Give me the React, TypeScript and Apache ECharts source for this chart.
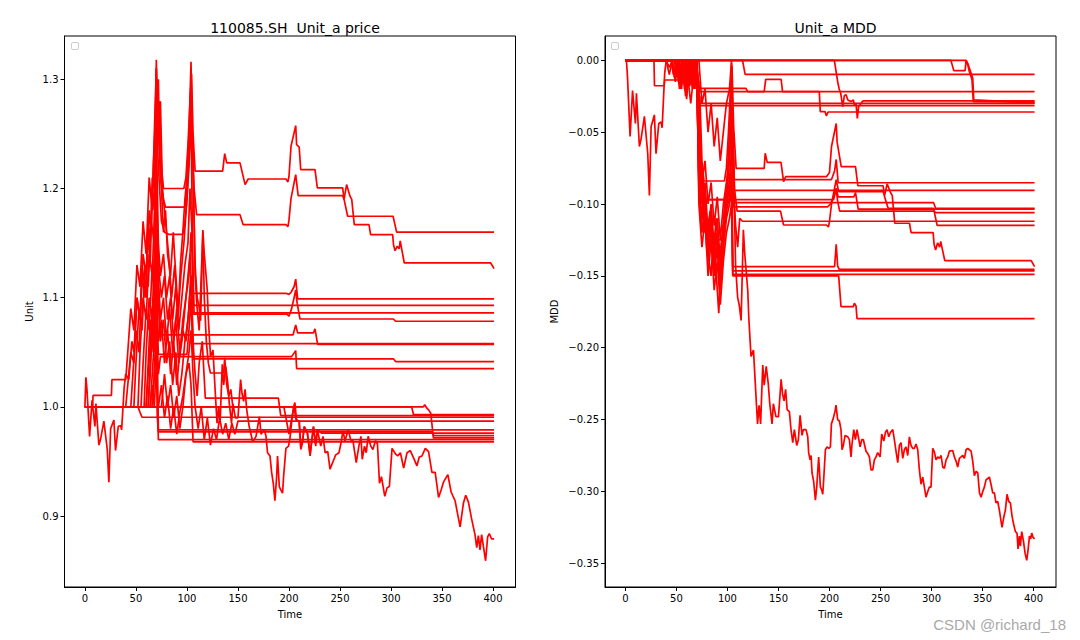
import React, { useEffect, useRef } from 'react';
import * as echarts from 'echarts';

const FONT = "'DejaVu Sans', sans-serif";
const RED = '#ff0000';

const xTicks = [0, 50, 100, 150, 200, 250, 300, 350, 400];
const priceTicks = [0.9, 1.0, 1.1, 1.2, 1.3];
const mddTicks = [0, -0.05, -0.1, -0.15, -0.2, -0.25, -0.3, -0.35];

// ---------- left chart: unit price ----------
const priceMain = [
  [0, 1.0], [1, 1.027], [2, 1.016], [4.6, 0.973], [7, 1.006], [9.8, 0.982], [10.8, 1.003], [13.7, 0.965], [15.3, 0.97], [18.6, 0.987],
  [21.9, 0.961], [23.5, 0.931], [25.2, 0.98], [28.4, 0.988], [30, 0.96], [32.7, 0.982], [35, 0.983], [36, 0.979], [38.5, 1.018], [40, 1.03],
  [43, 1.025], [46, 1.06], [48, 1.05], [51, 1.1], [54, 1.08], [56, 1.13], [58, 1.115], [60, 1.1], [62, 1.17], [64, 1.15], [66, 1.21],
  [68, 1.2], [70, 1.318], [71, 1.26], [72, 1.3], [73, 1.24], [75, 1.2], [77, 1.16], [79, 1.18], [81, 1.14], [83.9, 1.12], [86.6, 1.16],
  [88, 1.137], [91.5, 1.086], [93.7, 1.132], [96, 1.16], [98, 1.19], [100, 1.21], [102, 1.25], [104, 1.316], [105, 1.26], [106, 1.22],
  [108, 1.13], [110, 1.1], [111.7, 1.093], [113.4, 1.079], [115.6, 1.162], [117, 1.14], [119.9, 1.107], [121, 1.08], [123.1, 1.046],
  [125.5, 1.052], [128, 1.009], [129.5, 0.985], [131, 1.0], [132.5, 0.985], [134.6, 1.039], [136, 1.02], [138, 1.037], [140, 1.022],
  [141.5, 1.003], [143.7, 0.985], [145, 1.003], [147.5, 0.99], [150, 0.99], [152.6, 1.025], [154, 1.012], [155.5, 1.005], [157, 1.016],
  [158.5, 0.998], [161, 0.982], [164.5, 0.968], [167.7, 0.973], [171, 0.991], [172.6, 0.975], [175.8, 0.979], [177.5, 0.973], [179, 0.958],
  [181.4, 0.955], [183, 0.94], [184.6, 0.93], [186.2, 0.914], [187.9, 0.936], [188.8, 0.955], [190.5, 0.927], [192, 0.924], [193.7, 0.921],
  [194.7, 0.936], [197, 0.962], [199.6, 0.964], [201.2, 0.973], [202.8, 0.988], [204.5, 1.0], [205.8, 1.004], [207.4, 0.988], [210, 0.987],
  [211.6, 0.961], [213.2, 0.967], [214.9, 0.982], [218.1, 0.976], [220.7, 0.955], [224, 0.982], [226.2, 0.964], [227.9, 0.979], [231.1, 0.964],
  [233.4, 0.973], [235.4, 0.958], [238, 0.959], [240.2, 0.943], [243.2, 0.95], [245.8, 0.956], [249, 0.958], [251, 0.967], [252.9, 0.978],
  [254.9, 0.969], [258.1, 0.979], [260.4, 0.97], [262.7, 0.969], [265.9, 0.949], [268.5, 0.964], [270.5, 0.973], [271.8, 0.952], [274, 0.964],
  [275.7, 0.958], [277.6, 0.973], [280.2, 0.964], [282.2, 0.961], [284.8, 0.969], [286.7, 0.966], [288.7, 0.93], [290.6, 0.936], [293.9, 0.918],
  [296.2, 0.926], [298.4, 0.927], [301, 0.962], [304.3, 0.957], [306.6, 0.955], [309.2, 0.958], [312.4, 0.944], [315.7, 0.958], [318.9, 0.96],
  [322.2, 0.953], [325.4, 0.946], [327.7, 0.954], [330.3, 0.955], [333.6, 0.962], [336.8, 0.959], [340.1, 0.94], [343.3, 0.94], [346.6, 0.917],
  [349.2, 0.924], [351.4, 0.931], [355.7, 0.938], [358.9, 0.922], [362.8, 0.914], [367.7, 0.89], [371, 0.912], [373.2, 0.919], [375.8, 0.913],
  [379.1, 0.897], [382.3, 0.883], [384, 0.871], [385.6, 0.882], [387.2, 0.869], [388.8, 0.883], [392.7, 0.859], [394.7, 0.881], [396.3, 0.884],
  [398.6, 0.879], [401, 0.879],
];
const price1160 = [
  [0, 1], [40, 1], [42, 1.02], [45, 1.05], [48, 1.04], [51, 1.1], [54, 1.08], [57, 1.14], [60, 1.12], [63, 1.18], [65, 1.16], [67, 1.22],
  [69, 1.26], [70, 1.31], [71, 1.24], [73, 1.28], [75, 1.22], [77, 1.2], [97, 1.2], [99, 1.21], [101, 1.24], [103, 1.28], [104.5, 1.305],
  [106, 1.25], [108, 1.216], [135, 1.216], [137, 1.232], [139, 1.2235], [152, 1.2235], [157, 1.2036], [160, 1.2087], [197, 1.2087],
  [199, 1.206], [200, 1.211], [202, 1.2387], [206.6, 1.2576], [207.5, 1.2402], [210, 1.238], [211.5, 1.2173], [225.5, 1.2173],
  [227.8, 1.2005], [252.6, 1.2005], [254, 1.19], [257.5, 1.1746], [302, 1.1746], [305.5, 1.16], [401, 1.16],
];
const price1127 = [
  [0, 1], [45, 1], [47, 1.03], [50, 1.07], [53, 1.05], [56, 1.12], [59, 1.1], [62, 1.16], [64, 1.13], [66, 1.2], [68, 1.18], [70, 1.29],
  [72, 1.26], [74, 1.21], [77, 1.19], [79, 1.183], [98, 1.183], [100, 1.2], [102, 1.23], [104, 1.29], [105.5, 1.24], [107, 1.2],
  [109.5, 1.176], [152, 1.176], [155, 1.167], [197, 1.167], [199, 1.165], [200, 1.171], [202, 1.191], [206.6, 1.2127], [209, 1.1935],
  [252.6, 1.1935], [254, 1.19], [256.5, 1.2036], [259.8, 1.193], [261.5, 1.19], [264, 1.1669], [278.4, 1.1669], [280, 1.1578],
  [301.6, 1.1578], [302.5, 1.148], [304, 1.143], [306, 1.147], [308, 1.145], [309, 1.152], [313, 1.1318], [397.7, 1.1318], [401, 1.1266],
];
const price1099 = [
  [0, 1], [48, 1], [50, 1.04], [53, 1.09], [56, 1.07], [59, 1.13], [62, 1.11], [65, 1.17], [68, 1.15], [70, 1.27], [72, 1.22], [75, 1.17],
  [78, 1.16], [82, 1.158], [96, 1.158], [98, 1.17], [100, 1.19], [102, 1.22], [104, 1.27], [106, 1.104], [197, 1.104], [200, 1.103],
  [202, 1.105], [205, 1.11], [206.6, 1.117], [208.5, 1.099], [401, 1.099],
];
const price1093 = [
  [0, 1], [52, 1], [54, 1.05], [57, 1.1], [60, 1.08], [63, 1.14], [66, 1.12], [69, 1.2], [70, 1.25], [72, 1.15], [74, 1.12], [77, 1.14],
  [80, 1.1], [83, 1.12], [86, 1.08], [89, 1.11], [92, 1.07], [95, 1.1], [98, 1.13], [101, 1.15], [103, 1.2], [105, 1.16], [106.5, 1.093], [401, 1.093],
];
const price1087 = [
  [0, 1], [55, 1], [57, 1.04], [60, 1.09], [63, 1.07], [66, 1.13], [68, 1.1], [70, 1.2], [72, 1.13], [75, 1.1], [78, 1.12], [81, 1.08],
  [84, 1.1], [87, 1.06], [90, 1.09], [93, 1.05], [96, 1.08], [99, 1.1], [102, 1.12], [104, 1.16], [106, 1.12], [107, 1.086], [401, 1.086],
];
const price1078 = [
  [0, 1], [58, 1], [60, 1.05], [63, 1.1], [66, 1.08], [68, 1.14], [70, 1.22], [72, 1.12], [74, 1.08], [77, 1.1], [80, 1.06], [83, 1.09],
  [86, 1.05], [89, 1.08], [92, 1.04], [95, 1.06], [98, 1.09], [101, 1.12], [103, 1.14], [105, 1.1], [106, 1.085], [198, 1.085],
  [200, 1.083], [202.6, 1.09], [205, 1.1], [206.6, 1.107], [208, 1.095], [210.8, 1.0805], [302.3, 1.0805], [304.5, 1.0784], [401, 1.0784],
];
const price1057a = [
  [0, 1], [60, 1], [62, 1.04], [64, 1.08], [66, 1.06], [68, 1.12], [70, 1.18], [72, 1.1], [74, 1.066], [204, 1.066], [206.6, 1.075],
  [208.5, 1.0677], [223.9, 1.0677], [225.5, 1.0714], [228.1, 1.0573], [401, 1.0573],
];
const price1057b = [
  [0, 1], [62, 1], [64, 1.03], [66, 1.07], [68, 1.05], [70, 1.12], [72, 1.06], [75, 1.08], [78, 1.04], [81, 1.07], [84, 1.03], [87, 1.06],
  [90, 1.02], [93, 1.05], [96, 1.07], [99, 1.06], [102, 1.09], [104, 1.12], [106, 1.058], [401, 1.058],
];
const price1041 = [
  [0, 1], [64, 1], [66, 1.03], [68, 1.06], [70, 1.1], [72, 1.048], [100, 1.048], [102, 1.07], [104, 1.1], [106, 1.044], [302.3, 1.044],
  [304.5, 1.0415], [401, 1.0415],
];
const price1035 = [
  [0, 1], [66, 1], [68, 1.03], [70, 1.08], [72, 1.03], [74, 1.046], [202.6, 1.046], [206.6, 1.0515], [207.5, 1.0351], [401, 1.0351],
];
const price0992 = [
  [0, 1], [60, 1], [62, 1.03], [65, 1.07], [67, 1.05], [69, 1.12], [70, 1.2], [72, 1.1], [74, 1.06], [77, 1.08], [80, 1.04], [83, 1.06],
  [86, 1.02], [89, 1.05], [92, 1.01], [95, 1.03], [98, 1.06], [101, 1.08], [104, 1.12], [106, 1.06], [108, 1.03], [110, 1.01], [112, 1.04],
  [115, 1.06], [118, 1.008], [189.6, 1.008], [191.9, 0.992], [401, 0.992],
];
const price0993 = [[0, 1], [320.2, 1], [322, 0.993], [401, 0.993]];
const price0990 = [[0, 1], [52, 1], [54, 0.995], [56, 0.9905], [401, 0.9905]];
const price0987 = [
  [0, 1], [75, 1], [78, 1.03], [81, 1], [84, 1.02], [87, 0.99], [90, 1.01], [93, 0.98], [96, 1], [99, 1.03], [102, 1.05], [104, 1.07],
  [106, 1.03], [108, 1], [111, 0.98], [114, 1], [117, 0.97], [120, 0.99], [123, 0.965], [126, 0.98], [129, 0.97], [132, 0.99], [135, 0.975],
  [138, 0.985], [141, 0.97], [144, 0.985], [147, 0.975], [150, 0.987], [401, 0.987],
];
const price0979 = [[0, 1], [62, 1], [64, 1.04], [66, 1.09], [68, 1.07], [70, 1.15], [71, 1.05], [72, 0.979], [401, 0.979]];
const price0976 = [
  [0, 1], [7.5, 1], [8, 1.0106], [26, 1.0106], [26.5, 1.025], [40, 1.025], [42, 1.05], [45, 1.09], [48, 1.07], [51, 1.13], [54, 1.11],
  [57, 1.17], [60, 1.14], [63, 1.21], [66, 1.18], [68, 1.25], [70, 1.31], [72, 1.24], [74, 1.28], [76, 1.2], [79, 1.17], [82, 1.14],
  [85, 1.1], [88, 1.13], [91, 1.08], [94, 1.12], [97, 1.15], [100, 1.19], [102, 1.23], [104, 1.3], [106, 1.22], [108, 1.12], [110, 1.09],
  [112, 1.07], [114, 1.12], [115.6, 1.16], [117, 1.1], [119, 1.06], [121, 1.04], [123, 1.031], [136, 1.031], [137, 1.045], [139, 1.02],
  [141, 1.01], [143, 1.016], [145, 1.0], [195, 1.0], [197, 0.99], [200, 0.975], [202.8, 0.99], [205, 1.0], [207, 0.988], [210, 0.987],
  [211.6, 0.963], [213.2, 0.968], [215, 0.982], [218, 0.976], [220.7, 0.957], [224, 0.982], [226, 0.966], [228, 0.979], [232, 0.976], [401, 0.976],
];
const price0972 = [[0, 1], [331.7, 1], [333, 1.002], [335, 0.999], [337, 0.997], [339, 0.994], [341.5, 0.9716], [401, 0.9716]];
const price0974 = [[0, 1], [66, 1], [68, 1.03], [70, 1.06], [71, 0.99], [72, 0.977], [340, 0.977], [342, 0.9737], [401, 0.9737]];
const price0970 = [[0, 1], [64, 1], [66, 1.02], [68, 1], [70, 1.04], [72, 0.97], [401, 0.97]];
const price0968 = [
  [0, 1], [72, 1], [75, 1.02], [78, 0.99], [81, 1.01], [84, 0.98], [87, 1], [90, 0.975], [93, 0.995], [96, 1.01], [99, 1.03], [102, 1.04],
  [104, 1.02], [106, 0.968], [401, 0.968],
];

const priceLines = [
  priceMain, price1160, price1127, price1099, price1093, price1087, price1078, price1057a, price1057b, price1041, price1035,
  price0992, price0993, price0990, price0987, price0979, price0976, price0972, price0974, price0970, price0968,
];

// ---------- right chart: drawdown ----------
const mddMain = [
  [0, 0], [1, 0], [2, -0.011], [4.6, -0.053], [7, -0.021], [9.8, -0.044], [10.8, -0.023], [13.7, -0.06], [15.3, -0.055], [18.6, -0.039],
  [21.9, -0.065], [23.5, -0.094], [25.2, -0.046], [28.4, -0.038], [30, -0.065], [32.7, -0.044], [35, -0.043], [36, -0.047], [38.5, -0.009],
  [40, 0], [43, -0.005], [46, 0], [48, -0.01], [51, 0], [54, -0.02], [56, 0], [58, -0.013], [60, -0.027], [62, 0], [64, -0.017], [66, 0],
  [68, -0.008], [70, 0], [71, -0.044], [72, -0.014], [73, -0.059], [75, -0.09], [77, -0.12], [79, -0.105], [81, -0.135], [83.9, -0.15],
  [86.6, -0.12], [88, -0.137], [91.5, -0.176], [93.7, -0.141], [96, -0.12], [98, -0.097], [100, -0.082], [102, -0.052], [104, -0.002],
  [105, -0.044], [106, -0.074], [108, -0.143], [110, -0.165], [111.7, -0.171], [113.4, -0.181], [115.6, -0.118], [117, -0.135],
  [119.9, -0.16], [121, -0.18], [123.1, -0.206], [125.5, -0.2017], [128, -0.234], [129.5, -0.253], [131, -0.24], [132.5, -0.253],
  [134.6, -0.212], [136, -0.226], [138, -0.213], [140, -0.225], [141.5, -0.239], [143.7, -0.253], [145, -0.239], [147.5, -0.248],
  [150, -0.248], [152.6, -0.222], [154, -0.232], [155.5, -0.237], [157, -0.229], [158.5, -0.243], [160.7, -0.2445], [162.3, -0.257],
  [164, -0.266], [165.6, -0.257], [167.9, -0.268], [169.5, -0.264], [171.2, -0.247], [173.1, -0.261], [174.4, -0.257], [177, -0.257],
  [178.7, -0.262], [179.6, -0.273], [181, -0.278], [182, -0.275], [182.9, -0.287], [184.5, -0.293], [186.2, -0.306], [187.5, -0.297],
  [189.4, -0.276], [191.1, -0.297], [192.4, -0.299], [193.4, -0.302], [194.3, -0.292], [196, -0.271], [197.6, -0.269], [199.3, -0.27],
  [200.9, -0.269], [201.9, -0.253], [203.8, -0.249], [205.5, -0.244], [206.4, -0.24], [208, -0.25], [209.7, -0.251], [211.3, -0.257],
  [212.3, -0.271], [213.6, -0.268], [215.3, -0.261], [217.9, -0.262], [219.5, -0.264], [221.1, -0.276], [222.1, -0.267], [223.8, -0.257],
  [225.4, -0.264], [227, -0.257], [228.3, -0.262], [230, -0.269], [231.6, -0.264], [233.2, -0.264], [235.8, -0.272], [237.8, -0.274],
  [239.1, -0.276], [240.7, -0.285], [242.4, -0.285], [244, -0.278], [245.6, -0.276], [247.3, -0.273], [249.6, -0.276], [251.2, -0.26],
  [253.2, -0.265], [254.8, -0.259], [256.4, -0.257], [258.1, -0.262], [259.7, -0.259], [262, -0.257], [263.6, -0.264], [265.2, -0.272],
  [266.9, -0.28], [268.5, -0.268], [270.1, -0.266], [271.8, -0.277], [273.4, -0.271], [275, -0.269], [276.7, -0.275], [278.3, -0.262],
  [279.9, -0.268], [281.6, -0.27], [283.2, -0.27], [284.8, -0.267], [286.5, -0.271], [288.1, -0.285], [289.7, -0.295], [291.4, -0.29],
  [293, -0.297], [294.6, -0.304], [296.3, -0.3], [297.9, -0.297], [299.5, -0.297], [301.2, -0.27], [302.8, -0.2725], [304.4, -0.278],
  [306.1, -0.276], [307.7, -0.277], [309.4, -0.275], [311, -0.283], [312.6, -0.284], [314.3, -0.278], [315.9, -0.276], [317.5, -0.272],
  [320.8, -0.2715], [322.4, -0.276], [324.1, -0.279], [325.7, -0.283], [327.3, -0.277], [329, -0.276], [330.6, -0.275], [332.2, -0.277],
  [333.9, -0.271], [335.5, -0.27], [337.1, -0.271], [338.8, -0.272], [340.4, -0.279], [342, -0.289], [343.7, -0.286], [345.3, -0.287],
  [347, -0.301], [348.6, -0.304], [350.2, -0.3], [351.8, -0.297], [353.4, -0.292], [355.1, -0.291], [356.7, -0.29], [358.3, -0.295],
  [360, -0.301], [361.6, -0.301], [363.2, -0.308], [364.9, -0.307], [366.5, -0.313], [368.2, -0.321], [369.1, -0.325], [370.8, -0.318],
  [372.4, -0.313], [374, -0.302], [375.7, -0.307], [377.3, -0.308], [378.9, -0.317], [380.2, -0.322], [382.2, -0.328], [383.8, -0.329],
  [384.8, -0.34], [386.1, -0.331], [387.1, -0.338], [388.4, -0.328], [390, -0.334], [391.7, -0.343], [393.3, -0.348], [394.6, -0.341],
  [396, -0.331], [397.2, -0.333], [398.2, -0.329], [399.5, -0.332], [401, -0.333],
];
const mdd0283 = [
  [0, 0], [204.8, 0], [208, -0.0148], [209.5, -0.02], [211, -0.023], [213, -0.0323], [214.6, -0.0245], [216.3, -0.024], [218, -0.0276],
  [221, -0.0287], [223.4, -0.0276], [224.4, -0.031], [226, -0.03], [227.3, -0.0404], [228.6, -0.032], [230, -0.031], [232, -0.0288],
  [233, -0.0283], [401, -0.0283],
];
const mdd0290 = [
  [0, 0], [319, 0], [321.8, -0.0072], [332.9, -0.0072], [333.9, 0], [335.5, -0.003], [337.1, -0.008], [338.8, -0.0114], [339.7, -0.0137],
  [341, -0.0288], [401, -0.029],
];
const mdd0297 = [[0, 0], [333.9, 0], [335.5, -0.0021], [338.8, -0.0091], [340.4, -0.0125], [341.4, -0.0276], [401, -0.0297]];
const mdd0098 = [[0, 0], [114.8, 0], [117.3, -0.0098], [401, -0.0098]];
const mdd0218 = [
  [0, 0], [28, 0], [28.5, -0.0177], [38, -0.0177], [38.5, -0.0137], [70, -0.0137], [72, -0.0195], [118, -0.0195], [120, -0.0218],
  [136, -0.0218], [137.5, -0.0133], [152.6, -0.0133], [154, -0.0218], [401, -0.0218],
];
const mdd0300 = [
  [0, 0], [45, 0], [47, -0.01], [50, 0], [53, -0.02], [56, -0.005], [59, -0.025], [62, 0], [65, -0.015], [68, -0.005], [70, 0], [71, -0.02],
  [72, -0.03], [401, -0.03],
];
const mdd0316 = [
  [0, 0], [50, 0], [52, -0.015], [55, 0], [58, -0.02], [61, -0.01], [64, -0.03], [67, -0.01], [70, 0], [72, -0.0316], [401, -0.0316],
];
const mdd0360 = [
  [0, 0], [55, 0], [57, -0.01], [60, -0.025], [63, -0.005], [66, -0.02], [69, 0], [71, -0.01], [72.5, -0.0218], [190, -0.0218],
  [191, -0.0357], [195.6, -0.0357], [197, -0.0387], [198.6, -0.036], [401, -0.036],
];
const mdd1149 = [
  [0, 0], [40, 0], [43, -0.01], [46, 0], [49, -0.015], [52, 0], [55, -0.02], [58, 0], [61, -0.015], [64, 0], [67, -0.01], [70, 0],
  [71, -0.05], [73, -0.025], [75, -0.07], [77, -0.084], [97, -0.084], [99, -0.075], [101, -0.05], [103, -0.02], [104.5, -0.004],
  [106, -0.045], [108.5, -0.0752], [136, -0.0752], [137, -0.0647], [139, -0.071], [152.5, -0.071], [155, -0.0845], [157, -0.081],
  [197, -0.081], [200, -0.078], [202, -0.06], [206.6, -0.044], [207.5, -0.057], [211.5, -0.074], [225.5, -0.074], [227.8, -0.0873],
  [252.6, -0.0873], [254, -0.095], [257.5, -0.103], [302, -0.103], [305.5, -0.1149], [401, -0.1149],
];
const mdd1436 = [
  [0, 0], [45, 0], [48, -0.012], [51, 0], [54, -0.018], [57, 0], [60, -0.02], [63, 0], [66, -0.015], [68, 0], [70, -0.005], [72, -0.03],
  [74, -0.07], [77, -0.09], [79, -0.097], [98, -0.097], [100, -0.08], [102, -0.055], [104, -0.015], [105.5, -0.055], [107, -0.09],
  [109.5, -0.105], [152, -0.105], [155, -0.1146], [197, -0.1146], [199, -0.116], [200, -0.112], [202, -0.1], [206.6, -0.083],
  [209, -0.0914], [252.6, -0.0914], [254, -0.094], [256.5, -0.086], [259.8, -0.092], [261.5, -0.094], [264, -0.1134], [278.4, -0.1134],
  [280, -0.1199], [301.6, -0.1199], [302.5, -0.128], [304, -0.132], [306, -0.127], [308, -0.13], [309, -0.126], [313, -0.1394],
  [397.7, -0.1394], [401, -0.1436],
];
const mdd0852 = [
  [0, 0], [48, 0], [50, -0.01], [53, 0], [56, -0.015], [59, 0], [62, -0.015], [65, 0], [68, -0.01], [70, 0], [72, -0.04], [75, -0.08],
  [78, -0.11], [82, -0.125], [96, -0.125], [98, -0.11], [100, -0.09], [102, -0.06], [104, -0.035], [106, -0.083], [202, -0.083],
  [205, -0.077], [206.6, -0.069], [208.5, -0.0852], [401, -0.0852],
];
const mdd0905 = [
  [0, 0], [52, 0], [54, -0.01], [57, 0], [60, -0.018], [63, 0], [66, -0.014], [69, 0], [70, -0.01], [72, -0.08], [74, -0.1], [77, -0.09],
  [80, -0.12], [83, -0.105], [86, -0.135], [89, -0.11], [92, -0.14], [95, -0.12], [98, -0.095], [101, -0.08], [103, -0.05], [105, -0.07],
  [106.5, -0.0905], [401, -0.0905],
];
const mdd1030 = [
  [0, 0], [55, 0], [57, -0.008], [60, 0], [63, -0.018], [66, 0], [68, -0.02], [70, 0], [72, -0.06], [75, -0.085], [78, -0.07], [81, -0.1],
  [84, -0.085], [87, -0.115], [90, -0.095], [93, -0.125], [96, -0.1], [99, -0.085], [102, -0.07], [104, -0.04], [106, -0.07],
  [107, -0.099], [302, -0.099], [304, -0.103], [401, -0.103],
];
const mdd1060 = [
  [0, 0], [58, 0], [60, -0.01], [63, 0], [66, -0.02], [68, 0], [70, -0.01], [72, -0.085], [74, -0.115], [77, -0.1], [80, -0.135],
  [83, -0.11], [86, -0.14], [89, -0.12], [92, -0.15], [95, -0.13], [98, -0.11], [101, -0.09], [103, -0.075], [105, -0.09], [106, -0.102],
  [198, -0.102], [201, -0.1], [204, -0.095], [206.6, -0.09], [208, -0.098], [210, -0.1049], [302, -0.1049], [304.5, -0.106], [401, -0.106],
];
const mdd1035 = [
  [0, 0], [60, 0], [62, -0.012], [64, 0], [66, -0.015], [68, -0.005], [70, 0], [72, -0.05], [74, -0.097], [204, -0.097], [206.6, -0.089],
  [208.5, -0.095], [223.9, -0.095], [225.5, -0.092], [228.1, -0.1035], [401, -0.1035],
];
const mdd1120 = [
  [0, 0], [62, 0], [64, -0.015], [66, 0], [68, -0.02], [70, 0], [72, -0.07], [75, -0.1], [78, -0.085], [81, -0.12], [84, -0.1], [87, -0.13],
  [90, -0.11], [93, -0.14], [96, -0.12], [99, -0.1], [102, -0.09], [104, -0.06], [106, -0.09], [108, -0.115], [110, -0.13], [112, -0.11],
  [114.8, -0.112], [401, -0.112],
];
const mdd1455 = [
  [0, 0], [64, 0], [66, -0.01], [68, 0], [70, -0.005], [72, -0.09], [75, -0.12], [78, -0.1], [81, -0.14], [84, -0.115], [87, -0.15],
  [90, -0.13], [93, -0.16], [96, -0.13], [99, -0.11], [102, -0.1], [104, -0.09], [105.2, -0.1436], [205, -0.1436], [206.6, -0.128],
  [208, -0.143], [209.5, -0.1455], [401, -0.1455],
];
const mdd1466 = [
  [0, 0], [66, 0], [68, -0.01], [70, 0], [72, -0.1], [75, -0.13], [78, -0.11], [81, -0.15], [84, -0.125], [87, -0.16], [90, -0.14],
  [93, -0.17], [96, -0.14], [99, -0.12], [102, -0.11], [104, -0.1], [105.2, -0.1466], [401, -0.1466],
];
const mdd1490 = [
  [0, 0], [72, 0], [75, -0.03], [78, -0.02], [81, -0.05], [84, -0.03], [87, -0.06], [90, -0.04], [93, -0.07], [96, -0.05], [99, -0.03],
  [102, -0.02], [104, 0], [105.2, -0.149], [401, -0.149],
];
const mdd1798 = [
  [0, 0], [68, 0], [70, -0.005], [72, -0.08], [75, -0.11], [78, -0.095], [81, -0.13], [84, -0.105], [87, -0.145], [90, -0.12], [93, -0.155],
  [96, -0.13], [99, -0.105], [102, -0.095], [104, -0.08], [105.2, -0.15], [209, -0.15], [211.3, -0.1714], [223.4, -0.1714],
  [224.4, -0.169], [226, -0.171], [227, -0.1798], [401, -0.1798],
];

const mddLines = [
  mddMain, mdd0283, mdd0290, mdd0297, mdd0098, mdd0218, mdd0300, mdd0316, mdd0360, mdd1149, mdd1436, mdd0852, mdd0905,
  mdd1030, mdd1060, mdd1035, mdd1120, mdd1455, mdd1466, mdd1490, mdd1798,
];

const textBase = { color: '#000', fontFamily: FONT, fontSize: 10 };

function makeX(gridIndex: number) {
  return {
    type: 'value',
    gridIndex,
    min: -20,
    max: 422,
    axisLine: { show: true, onZero: false, lineStyle: { color: '#000', width: 1 } },
    axisTick: { show: true, customValues: xTicks, length: 4, lineStyle: { color: '#000', width: 1 } },
    axisLabel: { show: true, customValues: xTicks, margin: 6, ...textBase },
    splitLine: { show: false },
    name: 'Time',
    nameLocation: 'middle',
    nameGap: 22,
    nameTextStyle: { ...textBase },
  };
}

function buildOption() {
  const series: any[] = [];
  priceLines.forEach((d) => {
    series.push({
      type: 'line', xAxisIndex: 0, yAxisIndex: 0, data: d, showSymbol: false, symbol: 'none', silent: true,
      lineStyle: { color: RED, width: 1.7 }, clip: true,
    });
  });
  mddLines.forEach((d) => {
    series.push({
      type: 'line', xAxisIndex: 1, yAxisIndex: 1, data: d, showSymbol: false, symbol: 'none', silent: true,
      lineStyle: { color: RED, width: 1.7 }, clip: true,
    });
  });
  return {
    animation: false,
    backgroundColor: '#fff',
    title: [
      { text: '110085.SH  Unit_a price', left: 290, top: 16, textAlign: 'center', textStyle: { fontSize: 14, fontWeight: 'normal', color: '#000', fontFamily: FONT } },
      { text: 'Unit_a MDD', left: 830.5, top: 16, textAlign: 'center', textStyle: { fontSize: 14, fontWeight: 'normal', color: '#000', fontFamily: FONT } },
    ],
    grid: [
      { left: 64.5, top: 36, width: 451, height: 551, show: true, borderColor: '#000', borderWidth: 1, backgroundColor: 'transparent' },
      { left: 605, top: 36, width: 451, height: 551, show: true, borderColor: '#000', borderWidth: 1, backgroundColor: 'transparent' },
    ],
    xAxis: [makeX(0), makeX(1)],
    yAxis: [
      {
        type: 'value', gridIndex: 0, min: 0.835, max: 1.3397,
        axisLine: { show: true, onZero: false, lineStyle: { color: '#000', width: 1 } },
        axisTick: { show: true, customValues: priceTicks, length: 4, lineStyle: { color: '#000', width: 1 } },
        axisLabel: { show: true, customValues: priceTicks, margin: 6, formatter: (v: number) => v.toFixed(1), ...textBase },
        splitLine: { show: false },
        name: 'Unit', nameLocation: 'middle', nameGap: 30, nameTextStyle: { ...textBase },
      },
      {
        type: 'value', gridIndex: 1, min: -0.3665, max: 0.0169,
        axisLine: { show: true, onZero: false, lineStyle: { color: '#000', width: 1 } },
        axisTick: { show: true, customValues: mddTicks, length: 4, lineStyle: { color: '#000', width: 1 } },
        axisLabel: {
          show: true, customValues: mddTicks, margin: 6,
          formatter: (v: number) => (v < -1e-9 ? '\u2212' : '') + Math.abs(v).toFixed(2), ...textBase,
        },
        splitLine: { show: false },
        name: 'MDD', nameLocation: 'middle', nameGap: 46, nameTextStyle: { ...textBase },
      },
    ],
    graphic: [
      { type: 'rect', shape: { x: 71.5, y: 42.5, width: 7, height: 7, r: 1.5 }, style: { fill: '#fff', stroke: '#cccccc', lineWidth: 1 }, z: 100 },
      { type: 'rect', shape: { x: 611.5, y: 42.5, width: 7, height: 7, r: 1.5 }, style: { fill: '#fff', stroke: '#cccccc', lineWidth: 1 }, z: 100 },
      {
        type: 'text', x: 1066, y: 624, z: 100,
        style: { text: 'CSDN @richard_18', align: 'right', verticalAlign: 'middle', fontSize: 15, fontFamily: "'Liberation Sans', Arial, sans-serif", fill: '#a9a9a9' },
      },
    ],
    series,
  };
}

export default function App() {
  const ref = useRef<HTMLDivElement>(null);
  useEffect(() => {
    if (!ref.current) return;
    const chart = echarts.init(ref.current, null, { renderer: 'svg' });
    chart.setOption(buildOption() as any);
    return () => chart.dispose();
  }, []);
  return (
    <div
      ref={ref}
      style={{ position: 'fixed', left: 0, top: 0, width: 1080, height: 640, background: '#fff' }}
    />
  );
}
